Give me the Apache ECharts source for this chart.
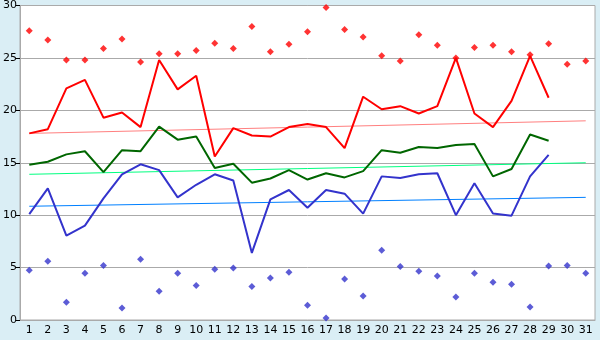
<!DOCTYPE html>
<html>
<head>
<meta charset="utf-8">
<script src="https://cdn.jsdelivr.net/npm/echarts@6/dist/echarts.min.js"></script>
<style>
html, body { margin: 0; padding: 0; background: #daeef5; }
#chart { width: 600px; height: 340px; }
</style>
</head>
<body>
<div id="chart"></div>
<script>
var days = [];
for (var d = 1; d <= 31; d++) days.push(String(d));

// daily max / mean / min (no values for 30, 31)
var maxTemp = [17.8, 18.2, 22.1, 22.9, 19.3, 19.8, 18.4, 24.8, 22.0, 23.3,
    15.6, 18.3, 17.6, 17.5, 18.4, 18.7, 18.4, 16.4, 21.3, 20.1,
    20.4, 19.7, 20.4, 25.0, 19.7, 18.4, 20.9, 25.2, 21.2, null, null];
var meanTemp = [14.8, 15.1, 15.8, 16.1, 14.1, 16.2, 16.1, 18.45, 17.2, 17.5,
    14.5, 14.9, 13.1, 13.5, 14.3, 13.4, 14.0, 13.6, 14.2, 16.2,
    15.95, 16.5, 16.4, 16.7, 16.8, 13.7, 14.4, 17.7, 17.1, null, null];
var minTemp = [10.1, 12.55, 8.05, 9.0, 11.6, 13.9, 14.85, 14.3, 11.7, 12.9,
    13.9, 13.3, 6.4, 11.5, 12.4, 10.7, 12.4, 12.05, 10.15, 13.7,
    13.55, 13.9, 14.0, 10.0, 13.05, 10.15, 9.95, 13.7, 15.75, null, null];

// record highs / lows
var recordHigh = [27.6, 26.7, 24.8, 24.8, 25.9, 26.8, 24.6, 25.4, 25.4, 25.7,
    26.4, 25.9, 28.0, 25.6, 26.3, 27.5, 29.8, 27.7, 27.0, 25.2,
    24.7, 27.2, 26.2, 25.0, 26.0, 26.2, 25.6, 25.3, 26.35, 24.4, 24.7];
var recordLow = [4.75, 5.6, 1.7, 4.45, 5.2, 1.15, 5.8, 2.75, 4.45, 3.3,
    4.85, 4.95, 3.2, 4.0, 4.55, 1.4, 0.2, 3.9, 2.3, 6.65,
    5.1, 4.65, 4.2, 2.2, 4.45, 3.6, 3.4, 1.25, 5.15, 5.2, 4.45];

// trend lines: value at day 1 and day 31
var maxTrend = [17.8, 19.0];
var meanTrend = [13.9, 15.0];
var minTrend = [10.85, 11.7];

function trend(t) {
    return [[days[0], t[0]], [days[days.length - 1], t[1]]];
}

var chart = echarts.init(document.getElementById('chart'));
var lineBase = { type: 'line', symbol: 'none', animation: false, connectNulls: false };
var option = {
    backgroundColor: '#daeef5',
    animation: false,
    grid: {
        left: 20, right: 5, top: 5, bottom: 20,
        show: true,
        backgroundColor: '#ffffff',
        borderColor: '#aaaaaa',
        borderWidth: 1
    },
    xAxis: {
        type: 'category',
        data: days,
        boundaryGap: true,
        axisLine: { lineStyle: { color: '#aaaaaa', width: 1 } },
        axisTick: { alignWithLabel: true, length: 5, lineStyle: { color: '#000' } },
        axisLabel: { interval: 0, color: '#000', fontFamily: 'DejaVu Sans', fontSize: 11, margin: 5 },
        splitLine: { show: false }
    },
    yAxis: {
        type: 'value',
        min: 0, max: 30, interval: 5,
        axisLine: { show: true, lineStyle: { color: '#aaaaaa', width: 1 } },
        axisTick: { show: true, length: 4, lineStyle: { color: '#000' } },
        axisLabel: { color: '#000', fontFamily: 'DejaVu Sans', fontSize: 11, margin: 3 },
        splitLine: { lineStyle: { color: '#aaaaaa', width: 1 } }
    },
    series: [
        Object.assign({}, lineBase, { name: 'max trend', data: trend(maxTrend), lineStyle: { color: '#ff8080', width: 1 } }),
        Object.assign({}, lineBase, { name: 'mean trend', data: trend(meanTrend), lineStyle: { color: '#00ff80', width: 1 } }),
        Object.assign({}, lineBase, { name: 'min trend', data: trend(minTrend), lineStyle: { color: '#0080ff', width: 1 } }),
        Object.assign({}, lineBase, { name: 'max', data: maxTemp, lineStyle: { color: '#ff0000', width: 2 } }),
        Object.assign({}, lineBase, { name: 'mean', data: meanTemp, lineStyle: { color: '#006600', width: 2 } }),
        Object.assign({}, lineBase, { name: 'min', data: minTemp, lineStyle: { color: '#3333cc', width: 2 } }),
        { name: 'record high', type: 'scatter', data: recordHigh, symbol: 'diamond', symbolSize: 7,
          itemStyle: { color: '#ff0000' }, animation: false },
        { name: 'record low', type: 'scatter', data: recordLow, symbol: 'diamond', symbolSize: 7,
          itemStyle: { color: '#3333cc' }, animation: false }
    ]
};
chart.setOption(option);
</script>
</body>
</html>
